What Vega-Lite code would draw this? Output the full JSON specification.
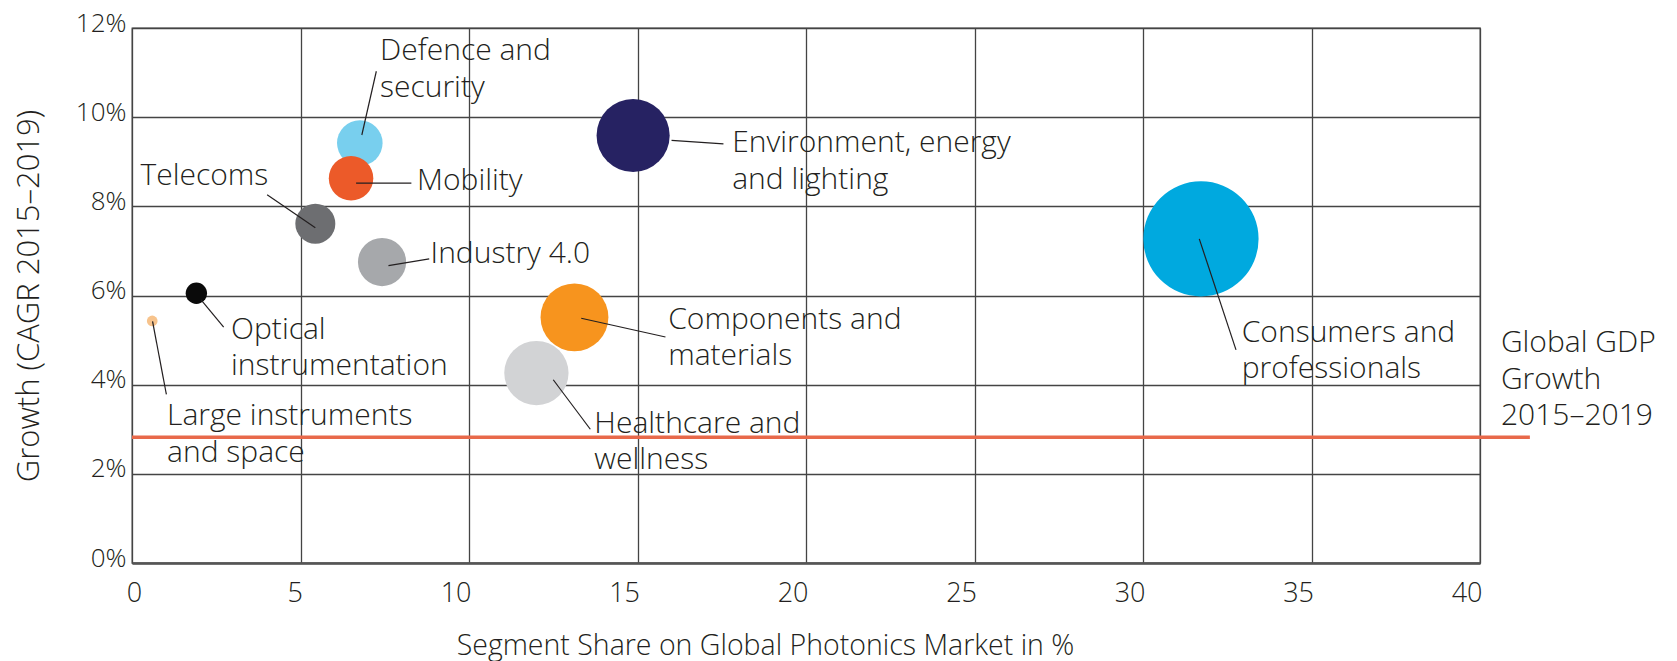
{
  "$schema": "https://vega.github.io/schema/vega-lite/v6.json",
  "width": 1348,
  "height": 535,
  "autosize": {"type": "none"},
  "padding": {"left": 132, "top": 28, "right": 197, "bottom": 98},
  "background": "white",
  "config": {
    "font": "Open Sans",
    "view": {"stroke": "#444444", "strokeWidth": 1.3},
    "axis": {
      "labelFont": "Open Sans",
      "labelFontSize": 26,
      "labelFontWeight": 300,
      "labelColor": "#231f20",
      "titleFont": "Open Sans",
      "titleFontSize": 28.5,
      "titleFontWeight": 300,
      "titleColor": "#231f20",
      "gridColor": "#444444",
      "gridWidth": 1.3,
      "gridOpacity": 1,
      "ticks": false
    }
  },
  "datasets": {
    "segments": [
      {"segment": "Large instruments and space", "share": 0.6, "growth": 5.43},
      {"segment": "Optical instrumentation", "share": 1.91, "growth": 6.05},
      {"segment": "Telecoms", "share": 5.44, "growth": 7.61},
      {"segment": "Defence and security", "share": 6.76, "growth": 9.42},
      {"segment": "Mobility", "share": 6.5, "growth": 8.63},
      {"segment": "Industry 4.0", "share": 7.42, "growth": 6.75},
      {"segment": "Healthcare and wellness", "share": 12.0, "growth": 4.26},
      {"segment": "Components and materials", "share": 13.13, "growth": 5.51},
      {"segment": "Environment, energy and lighting", "share": 14.87, "growth": 9.59},
      {"segment": "Consumers and professionals", "share": 31.72, "growth": 7.27}
    ],
    "leaders": [
      {"segment": "Defence and security", "x1": 6.82, "y1": 9.6, "x2": 7.25, "y2": 11.03},
      {"segment": "Mobility", "x1": 6.65, "y1": 8.52, "x2": 8.29, "y2": 8.52},
      {"segment": "Telecoms", "x1": 4.01, "y1": 8.26, "x2": 5.44, "y2": 7.52},
      {"segment": "Industry 4.0", "x1": 7.61, "y1": 6.67, "x2": 8.82, "y2": 6.82},
      {"segment": "Optical instrumentation", "x1": 2.05, "y1": 5.9, "x2": 2.72, "y2": 5.29},
      {"segment": "Large instruments and space", "x1": 0.61, "y1": 5.42, "x2": 1.02, "y2": 3.78},
      {"segment": "Healthcare and wellness", "x1": 12.5, "y1": 4.11, "x2": 13.6, "y2": 3.0},
      {"segment": "Components and materials", "x1": 13.33, "y1": 5.49, "x2": 15.83, "y2": 5.07},
      {"segment": "Environment, energy and lighting", "x1": 16.01, "y1": 9.48, "x2": 17.55, "y2": 9.4},
      {"segment": "Consumers and professionals", "x1": 31.67, "y1": 7.27, "x2": 32.76, "y2": 4.78}
    ],
    "labels": [
      {"text": "Defence and\nsecurity", "x": 7.36, "y": 11.48},
      {"text": "Mobility", "x": 8.46, "y": 8.56},
      {"text": "Telecoms", "x": 0.25, "y": 8.68},
      {"text": "Industry 4.0", "x": 8.86, "y": 6.93},
      {"text": "Optical\ninstrumentation", "x": 2.94, "y": 5.23},
      {"text": "Large instruments\nand space", "x": 1.04, "y": 3.29},
      {"text": "Healthcare and\nwellness", "x": 13.72, "y": 3.12},
      {"text": "Components and\nmaterials", "x": 15.91, "y": 5.46},
      {"text": "Environment, energy\nand lighting", "x": 17.81, "y": 9.41},
      {"text": "Consumers and\nprofessionals", "x": 32.93, "y": 5.17},
      {"text": "Global GDP\nGrowth\n2015–2019", "x": 40.62, "y": 4.93}
    ],
    "gdp": [
      {"label": "Global GDP Growth 2015–2019", "growth": 2.82, "from": 0, "to": 41.48}
    ]
  },
  "layer": [
    {
      "data": {"name": "segments"},
      "mark": {"type": "point", "filled": true, "opacity": 1, "strokeWidth": 0},
      "encoding": {
        "x": {
          "field": "share",
          "type": "quantitative",
          "scale": {"domain": [0, 40], "nice": false, "zero": true},
          "axis": {
            "values": [0, 5, 10, 15, 20, 25, 30, 35, 40],
            "title": "Segment Share on Global Photonics Market in %",
            "titleX": 633,
            "titleY": 82,
            "titleAlign": "center",
            "titleBaseline": "middle",
            "labelAlign": {"condition": {"test": "datum.value === 0", "value": "center"}, "value": "right"},
            "labelBaseline": "top",
            "labelPadding": 17,
            "labelOffset": 2,
            "labelFontSize": 27,
            "domain": true,
            "domainColor": "#555555",
            "domainWidth": 2.5
          }
        },
        "y": {
          "field": "growth",
          "type": "quantitative",
          "scale": {"domain": [0, 12], "nice": false},
          "axis": {
            "values": [0, 2, 4, 6, 8, 10, 12],
            "labelExpr": "datum.value + '%'",
            "title": "Growth (CAGR 2015–2019)",
            "titleFontSize": 31,
            "titleX": -103,
            "titleY": 267.5,
            "titleAngle": -90,
            "titleAlign": "center",
            "titleBaseline": "middle",
            "labelBaseline": "middle",
            "labelOffset": -5,
            "labelPadding": 6,
            "domain": false
          }
        },
        "color": {
          "field": "segment",
          "type": "nominal",
          "legend": null,
          "scale": {
            "domain": ["Large instruments and space", "Optical instrumentation", "Telecoms", "Defence and security", "Mobility", "Industry 4.0", "Healthcare and wellness", "Components and materials", "Environment, energy and lighting", "Consumers and professionals"],
            "range": ["#F7C38C", "#0a0a0a", "#6D6E71", "#78CFEE", "#EC5A29", "#A6A8AB", "#D2D3D5", "#F7941E", "#262262", "#00A9DF"]
          }
        },
        "size": {
          "field": "share",
          "type": "quantitative",
          "legend": null,
          "scale": {"type": "pow", "exponent": 1.2, "domain": [0, 31.72], "range": [0, 13273]}
        }
      }
    },
    {
      "data": {"name": "gdp"},
      "mark": {"type": "rule", "color": "#E8694A", "strokeWidth": 3.5},
      "encoding": {
        "x": {"field": "from", "type": "quantitative"},
        "x2": {"field": "to"},
        "y": {"field": "growth", "type": "quantitative"}
      }
    },
    {
      "data": {"name": "leaders"},
      "mark": {"type": "rule", "color": "#231f20", "strokeWidth": 1.2},
      "encoding": {
        "x": {"field": "x1", "type": "quantitative"},
        "y": {"field": "y1", "type": "quantitative"},
        "x2": {"field": "x2"},
        "y2": {"field": "y2"}
      }
    },
    {
      "data": {"name": "labels"},
      "mark": {"type": "text", "align": "left", "baseline": "middle", "lineBreak": "\n", "lineHeight": 36.5, "fontSize": 30, "fontWeight": 300, "font": "Open Sans", "color": "#231f20"},
      "encoding": {
        "x": {"field": "x", "type": "quantitative"},
        "y": {"field": "y", "type": "quantitative"},
        "text": {"field": "text"}
      }
    }
  ]
}
